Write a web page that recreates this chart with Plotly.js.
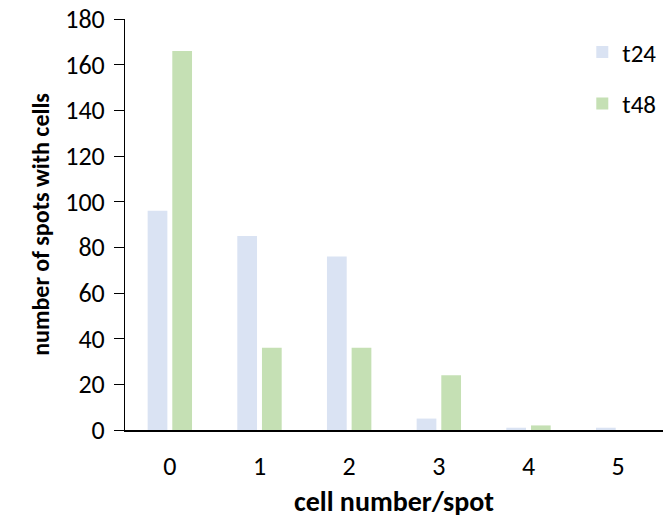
<!DOCTYPE html>
<html><head><meta charset="utf-8">
<script src="https://cdn.plot.ly/plotly-3.0.1.min.js"></script>
<style>html,body{margin:0;padding:0;background:#fff}#chart{width:669px;height:519px}</style>
</head><body><div id="chart"></div>
<script>
const categories = ["0","1","2","3","4","5"];
const t24 = [96, 85, 76, 5, 1, 1];
const t48 = [166, 36, 36, 24, 2, 0];
const seriesNames = ["t24","t48"];
const yTicks = [0,20,40,60,80,100,120,140,160,180];

const font = "Carlito, Lato, 'Open Sans', sans-serif";
const traces = [
  {type:"bar", name:seriesNames[0], x:categories, y:t24, marker:{color:"#dae3f3"}, legendgroup:"a"},
  {type:"bar", name:seriesNames[1], x:categories, y:t48, marker:{color:"#c5e0b4"}, legendgroup:"b"}
];
const layout = {
  width:669, height:519,
  margin:{l:125, r:6, t:19, b:89, autoexpand:false},
  paper_bgcolor:"#fff", plot_bgcolor:"#fff",
  font:{family:font, size:26, color:"#000"},
  barmode:"group", bargap:0.45, bargroupgap:0.2,
  showlegend:true,
  legend:{x:0.85, y:0.975, xanchor:"left", yanchor:"top", traceorder:"grouped", tracegroupgap:16,
          font:{size:25, family:font}, bgcolor:"rgba(0,0,0,0)"},
  xaxis:{type:"category", showline:true, linecolor:"#000", linewidth:2, ticks:"", showgrid:false,
         zeroline:false, tickfont:{size:26}, ticklabelstandoff:12,
         title:{text:"<b>cell number/spot</b>", font:{size:28}, standoff:14}},
  yaxis:{range:[0,180], tickvals:yTicks, showline:true, linecolor:"#000", linewidth:1, ticks:"outside",
         ticklen:10, tickcolor:"#000", showgrid:false, zeroline:false, tickfont:{size:26}, ticklabelstandoff:4,
         title:{text:"<b>number of spots with cells</b>", font:{size:24}, standoff:8}}
};
Plotly.newPlot("chart", traces, layout, {displayModeBar:false, staticPlot:true});
</script></body></html>
